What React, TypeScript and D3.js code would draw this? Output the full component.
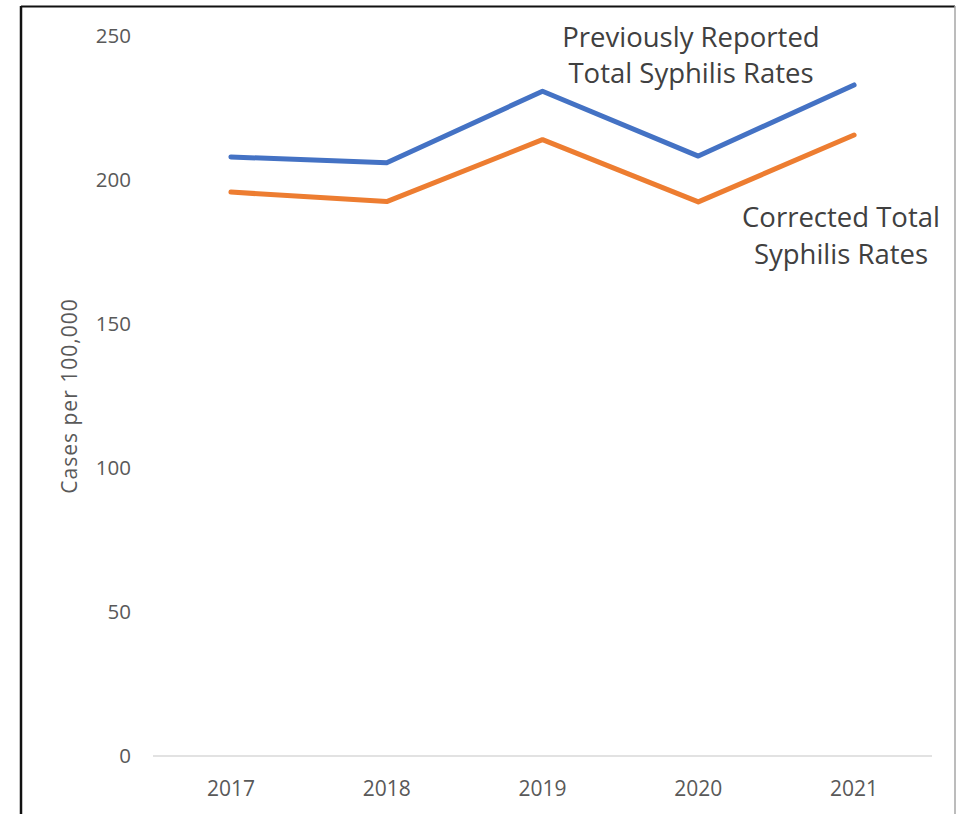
import React from "react";
import * as d3 from "d3";

const years = ["2017", "2018", "2019", "2020", "2021"];
const previouslyReported = [208.0, 206.0, 230.8, 208.3, 233.0];
const corrected = [195.8, 192.5, 214.0, 192.4, 215.6];
const yTicks = [0, 50, 100, 150, 200, 250];
const yTitle = "Cases per 100,000";
const prevLabel = ["Previously Reported", "Total Syphilis Rates"];
const corrLabel = ["Corrected Total", "Syphilis Rates"];

const W = 961;
const H = 814;
const FONT = "'Open Sans', 'Noto Sans', sans-serif";

export default function App() {
  const x = d3.scaleBand<string>().domain(years).range([153, 932]);
  const y = d3.scaleLinear().domain([0, 250]).range([756, 36]);
  const cx = (d: string) => (x(d) as number) + x.bandwidth() / 2;
  const line = d3
    .line<number>()
    .x((_, i) => cx(years[i]))
    .y((v) => y(v));

  return (
    <svg
      width={W}
      height={H}
      style={{ position: "absolute", left: 0, top: 0, background: "#fff" }}
    >
      <rect x={0} y={0} width={W} height={H} fill="#fff" />
      {/* border */}
      <line x1={21} y1={6.5} x2={955} y2={6.5} stroke="#111" strokeWidth={2} />
      <line x1={21} y1={6} x2={21} y2={H} stroke="#111" strokeWidth={2.5} />
      <line x1={955} y1={6} x2={955} y2={H} stroke="#a6a6a6" strokeWidth={1.5} />

      {/* x axis line */}
      <line x1={153} y1={y(0)} x2={932} y2={y(0)} stroke="#d9d9d9" strokeWidth={1.5} />

      {/* y tick labels */}
      {yTicks.map((t) => (
        <text
          key={t}
          x={131}
          y={y(t)}
          dy="0.35em"
          textAnchor="end"
          fontFamily={FONT}
          fontSize={20.5}
          fill="#595959"
        >
          {t}
        </text>
      ))}

      {/* x tick labels */}
      {years.map((yr) => (
        <text
          key={yr}
          x={cx(yr)}
          y={796}
          textAnchor="middle"
          fontFamily={FONT}
          fontSize={21}
          fill="#595959"
        >
          {yr}
        </text>
      ))}

      {/* y title */}
      <text
        transform={`translate(77,396) rotate(-90)`}
        textAnchor="middle"
        fontFamily={FONT}
        fontSize={21}
        letterSpacing={1}
        fill="#595959"
      >
        {yTitle}
      </text>

      {/* lines */}
      <path
        d={line(corrected) || ""}
        fill="none"
        stroke="#ED7D31"
        strokeWidth={5}
        strokeLinecap="round"
        strokeLinejoin="round"
      />
      <path
        d={line(previouslyReported) || ""}
        fill="none"
        stroke="#4472C4"
        strokeWidth={5}
        strokeLinecap="round"
        strokeLinejoin="round"
      />

      {/* annotations */}
      {prevLabel.map((s, i) => (
        <text
          key={s}
          x={691}
          y={46.5 + i * 36.7}
          textAnchor="middle"
          fontFamily={FONT}
          fontSize={27.5}
          fill="#404040"
        >
          {s}
        </text>
      ))}
      {corrLabel.map((s, i) => (
        <text
          key={s}
          x={841}
          y={226.5 + i * 37.5}
          textAnchor="middle"
          fontFamily={FONT}
          fontSize={27.5}
          fill="#404040"
        >
          {s}
        </text>
      ))}
    </svg>
  );
}
